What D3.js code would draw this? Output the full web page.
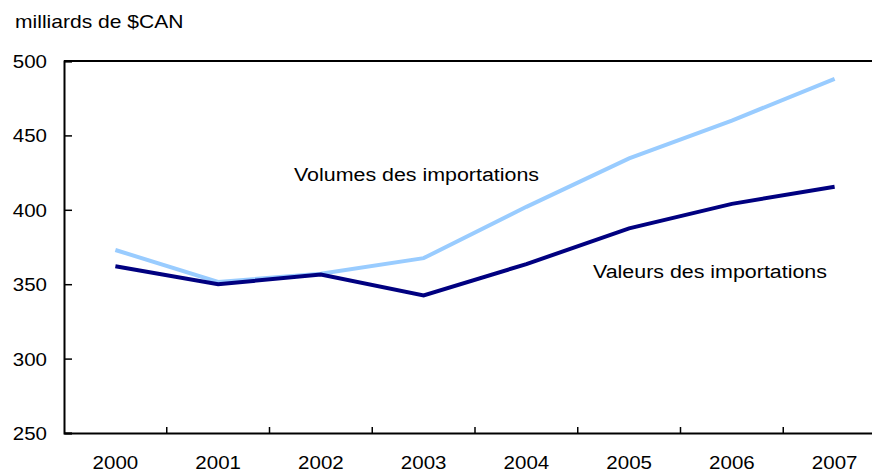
<!DOCTYPE html>
<html>
<head>
<meta charset="utf-8">
<script src="https://cdn.jsdelivr.net/npm/d3@7"></script>
<style>
  body { margin: 0; background: #fff; }
  svg { font-family: "Liberation Sans", Arial, sans-serif; }
</style>
</head>
<body>
<div id="chart"></div>
<script>
const years = ["2000", "2001", "2002", "2003", "2004", "2005", "2006", "2007"];
const volumes = [373, 351.5, 357, 367.5, 402, 434.5, 460, 488];
const valeurs = [362, 350, 356.5, 342.5, 363.5, 387.5, 404, 415.5];
const yTicks = [250, 300, 350, 400, 450, 500];

const width = 872, height = 472;
const mLeft = 64, mTop = 61, mBottom = 433, mRight = 886;

const svg = d3.select("#chart").append("svg")
  .attr("width", width)
  .attr("height", height);

const x = d3.scaleBand().domain(years).range([mLeft, mRight]);
const y = d3.scaleLinear().domain([250, 500]).range([mBottom, mTop]);

// texte un peu elargi comme dans l'original
function label(px, py, txt, size, sx, anchor) {
  svg.append("text")
    .attr("transform", `translate(${px},${py}) scale(${sx},1)`)
    .attr("text-anchor", anchor || "start")
    .attr("font-size", size)
    .text(txt);
}

// cadre haut
svg.append("line")
  .attr("x1", mLeft).attr("x2", width)
  .attr("y1", mTop).attr("y2", mTop)
  .attr("stroke", "#000").attr("stroke-width", 2);

// axe y
const yAxis = svg.append("g")
  .attr("transform", `translate(${mLeft},0)`)
  .call(d3.axisRight(y).tickValues(yTicks).tickSize(8).tickFormat(""));
yAxis.select(".domain").attr("stroke-width", 2);
yAxis.selectAll(".tick line").attr("stroke-width", 1.5);

yTicks.forEach(d => label(47, y(d) + 7, d, 19, 1.08, "end"));

// axe x
const xAxis = svg.append("g")
  .attr("transform", `translate(0,${mBottom})`)
  .call(d3.axisBottom(x).tickSize(0).tickFormat(""));
xAxis.select(".domain").attr("stroke-width", 2);

svg.selectAll(".xtick")
  .data(years.slice(1))
  .enter().append("line")
  .attr("x1", d => x(d)).attr("x2", d => x(d))
  .attr("y1", mBottom).attr("y2", mBottom - 6)
  .attr("stroke", "#000").attr("stroke-width", 1.5);

years.forEach(d => label(x(d) + x.bandwidth() / 2, 469, d, 19, 1.08, "middle"));

// lignes
const line = d3.line()
  .x((d, i) => x(years[i]) + x.bandwidth() / 2)
  .y(d => y(d));

svg.append("path").datum(volumes)
  .attr("d", line)
  .attr("fill", "none")
  .attr("stroke", "#99ccff")
  .attr("stroke-width", 4);

svg.append("path").datum(valeurs)
  .attr("d", line)
  .attr("fill", "none")
  .attr("stroke", "#000080")
  .attr("stroke-width", 4);

// titres
label(15, 28, "milliards de $CAN", 18, 1.17);
label(294, 181, "Volumes des importations", 18, 1.19);
label(593, 278, "Valeurs des importations", 18, 1.19);
</script>
</body>
</html>
